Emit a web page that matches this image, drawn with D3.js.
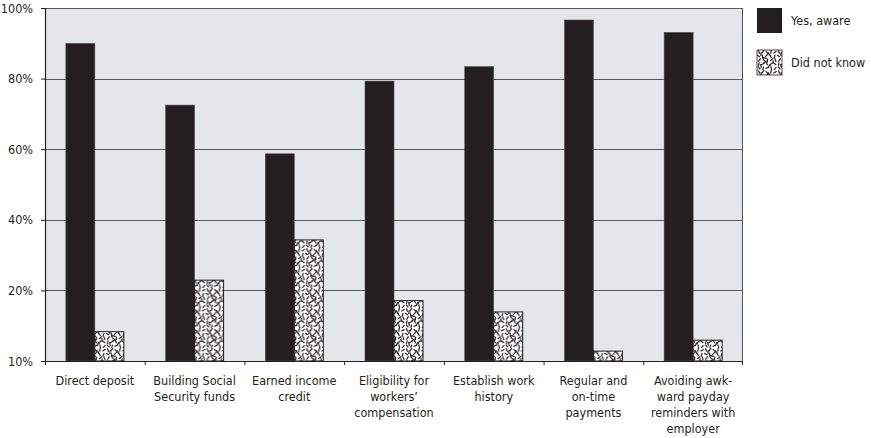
<!DOCTYPE html>
<html>
<head>
<meta charset="utf-8">
<script src="https://cdn.jsdelivr.net/npm/d3@7"></script>
<style>
  html, body { margin: 0; padding: 0; background: #fff; }
  svg text { font-family: "Liberation Sans Narrow", "DejaVu Sans Condensed", "Roboto Condensed", sans-serif; fill: #231f20; }
</style>
</head>
<body>
<svg id="chart" width="871" height="438"></svg>
<script>
// Survey results: share of respondents aware of each benefit
const categories = [
  ["Direct deposit"],
  ["Building Social", "Security funds"],
  ["Earned income", "credit"],
  ["Eligibility for", "workers’", "compensation"],
  ["Establish work", "history"],
  ["Regular and", "on-time", "payments"],
  ["Avoiding awk-", "ward payday", "reminders with", "employer"]
];
const yesAware   = [90, 72.5, 58.7, 79.3, 83.4, 96.6, 93.1];
const didNotKnow = [8.3, 22.9, 34.3, 17.1, 13.9, 2.8, 5.9];
const seriesNames = ["Yes, aware", "Did not know"];
const tickValues = [0, 20, 40, 60, 80, 100];
const tickLabels = ["10%", "20%", "40%", "60%", "80%", "100%"];

const svg = d3.select("#chart");
const margin = { left: 45, top: 8, right: 128, bottom: 77 };
const width = 871 - margin.left - margin.right;
const height = 438 - margin.top - margin.bottom;

// Speckled texture for the "Did not know" bars: short dashes [cx, cy, angle]
const speckles = [
  [2,2,70],[6,1.5,120],[10,2.5,45],[14,1.8,100],[18,2.2,150],
  [1.5,6,30],[5.5,6.5,80],[9.5,5.5,135],[13.5,6.2,60],[17.5,6.8,110],
  [2.5,10,125],[6.5,9.5,55],[10.5,10.5,95],[14.5,9.8,140],[18.5,10.2,70],
  [1.8,14.2,100],[5.8,14,150],[9.8,13.6,65],[13.8,14.4,120],[17.8,13.8,40],
  [2.2,18,50],[6.2,18.4,105],[10.2,17.8,160],[14.2,18.2,75],[18.2,18.6,130],
  [4,4,100],[12,4,60],[8,8,20],[16,12,95],[4,16,75],[12,16,115],[8,12,140]
];
const defs = svg.append("defs");
const pat = defs.append("pattern")
  .attr("id", "speckle")
  .attr("patternUnits", "userSpaceOnUse")
  .attr("width", 20).attr("height", 20);
pat.append("rect").attr("width", 20).attr("height", 20).attr("fill", "#fff");
const half = 1.9;
pat.selectAll("line").data(speckles).join("line")
  .attr("x1", d => d[0] - half * Math.cos(d[2] * Math.PI / 180))
  .attr("y1", d => d[1] - half * Math.sin(d[2] * Math.PI / 180))
  .attr("x2", d => d[0] + half * Math.cos(d[2] * Math.PI / 180))
  .attr("y2", d => d[1] + half * Math.sin(d[2] * Math.PI / 180))
  .attr("stroke", "#231f20").attr("stroke-width", 1.2).attr("stroke-linecap", "butt");

const g = svg.append("g").attr("transform", `translate(${margin.left},${margin.top})`);

const x0 = d3.scaleBand().domain(d3.range(categories.length)).range([0, width]).padding(0);
const x1 = d3.scaleBand().domain([0, 1]).range([0, 58]);
const y = d3.scaleLinear().domain([0, 100]).range([height, 0]);

// Plot background
g.append("rect").attr("width", width).attr("height", height).attr("fill", "#e5e6e8");

// Gridlines
g.selectAll(".grid").data(tickValues.filter(v => v > 0)).join("line")
  .attr("x1", 0).attr("x2", width)
  .attr("y1", d => Math.round(y(d)) + 0.5).attr("y2", d => Math.round(y(d)) + 0.5)
  .attr("stroke", "#5a5a5a").attr("stroke-width", 1.2);

// Bars
const groups = g.selectAll(".cat").data(categories.map((c, i) => i)).join("g")
  .attr("transform", i => `translate(${x0(i) + (x0.bandwidth() - 58) / 2},0)`);

groups.append("rect")
  .attr("x", x1(0)).attr("width", x1.bandwidth())
  .attr("y", i => y(yesAware[i])).attr("height", i => height - y(yesAware[i]))
  .attr("fill", "#231f20").attr("stroke", "#555").attr("stroke-width", 0.6);

groups.append("rect")
  .attr("x", x1(1)).attr("width", x1.bandwidth())
  .attr("y", i => y(didNotKnow[i])).attr("height", i => height - y(didNotKnow[i]))
  .attr("fill", "url(#speckle)").attr("stroke", "#231f20").attr("stroke-width", 1);

// Right border
g.append("line").attr("x1", width - 0.5).attr("x2", width - 0.5).attr("y1", 0).attr("y2", height)
  .attr("stroke", "#555").attr("stroke-width", 1);

// Y axis
const yAxis = g.append("g").call(
  d3.axisLeft(y).tickValues(tickValues).tickFormat((d, i) => tickLabels[i]).tickSize(4).tickPadding(8)
);
yAxis.select(".domain").attr("stroke", "#231f20").attr("stroke-width", 1.2);
yAxis.selectAll(".tick line").attr("stroke", "#231f20");
yAxis.selectAll(".tick text").attr("font-size", 12.5).attr("fill", "#231f20")
  .attr("font-family", "Liberation Sans Narrow, DejaVu Sans Condensed, sans-serif");

// X axis with boundary ticks
const xAxisG = g.append("g").attr("transform", `translate(0,${height})`);
xAxisG.append("line").attr("x1", 0).attr("x2", width).attr("y1", 0.5).attr("y2", 0.5)
  .attr("stroke", "#231f20").attr("stroke-width", 1.2);
xAxisG.selectAll(".bt").data(d3.range(categories.length + 1)).join("line")
  .attr("x1", i => i < categories.length ? x0(i) + 0.5 : width - 0.5)
  .attr("x2", i => i < categories.length ? x0(i) + 0.5 : width - 0.5)
  .attr("y1", 0).attr("y2", 4).attr("stroke", "#231f20");

const labels = xAxisG.selectAll(".lbl").data(categories).join("text")
  .attr("text-anchor", "middle")
  .attr("font-size", 12.5)
  .attr("transform", (d, i) => `translate(${x0(i) + x0.bandwidth() / 2},24)`);
labels.selectAll("tspan").data(d => d).join("tspan")
  .attr("x", 0).attr("dy", (d, i) => i === 0 ? 0 : 16)
  .text(d => d);

// Legend
const legend = svg.append("g").attr("transform", "translate(757,8)");
const fills = ["#231f20", "url(#speckle)"];
seriesNames.forEach((name, i) => {
  const row = legend.append("g").attr("transform", `translate(0,${i * 42})`);
  row.append("rect").attr("width", 25).attr("height", 25)
    .attr("fill", fills[i]).attr("stroke", i === 0 ? "none" : "#231f20").attr("stroke-width", 0.8);
  row.append("text").attr("x", 34).attr("y", 17).attr("font-size", 12.5).text(name);
});
</script>
</body>
</html>
